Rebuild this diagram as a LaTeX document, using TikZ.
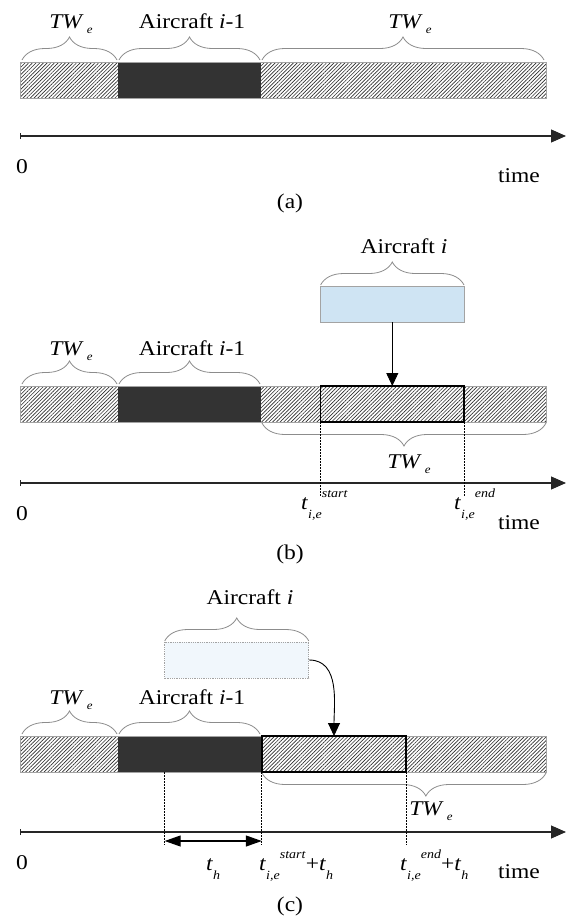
\documentclass[tikz,border=0pt]{standalone}
\usepackage{fontspec}
\setmainfont[FakeStretch=1.12]{Liberation Serif}
\usetikzlibrary{decorations.pathreplacing,arrows.meta,patterns.meta}

\definecolor{slotDark}{HTML}{333333}
\definecolor{slotHatch}{HTML}{2E2E2E}
\definecolor{slotEdge}{HTML}{A3A3A3}
\definecolor{braceGray}{HTML}{8C8C8C}
\definecolor{planBlue}{HTML}{CFE4F3}
\definecolor{planPale}{HTML}{F1F7FC}

\newcommand{\twe}{\textit{TW}\hspace{3pt}\raisebox{-5pt}{\fontsize{11.5}{12}\selectfont\textit{e}}}
\newcommand{\lowtxt}[1]{\raisebox{-9pt}{\fontsize{12.5}{13}\selectfont\textit{#1}}}
\newcommand{\uptxt}[1]{\raisebox{12pt}{\fontsize{12.5}{13}\selectfont\textit{#1}}}
\newcommand{\tie}[1]{\textit{t}\lowtxt{i,e}\uptxt{#1}}

\begin{document}
\begin{tikzpicture}[x=1pt,y=-1pt,font=\fontsize{21}{25}\selectfont,
  lbl/.style={anchor=base,inner sep=0pt},
  tlbl/.style={anchor=base west,inner sep=0pt},
  hatch/.style={pattern={Lines[angle=45,distance=2.6pt,line width=0.65pt]},pattern color=slotHatch},
  slot/.style={draw=slotEdge,line width=0.8pt},
  held/.style={draw=black,line width=1.6pt},
  curly/.style={draw=braceGray,line width=0.8pt,decorate,decoration={brace,amplitude=23pt}},
  curlydown/.style={curly,decoration={mirror}},
  timeaxis/.style={draw=black!85,line width=1.1pt,{Bar[width=6pt]}-{Triangle[length=15pt,width=13pt]}},
  guide/.style={draw=black,line width=0.7pt,dash pattern=on 1.5pt off 1.5pt},
  push/.style={draw=black,line width=0.9pt,-{Triangle[length=13pt,width=12pt]}},
  hold/.style={draw=black,line width=1.2pt,{Triangle[length=16pt,width=11pt]}-{Triangle[length=16pt,width=11pt]}},
  plan/.style={draw=slotEdge,line width=0.8pt,minimum height=36pt,inner sep=0pt}]

  \useasboundingbox (0,0) rectangle (575,919);

  % ---------- (a) ----------
  \node[lbl] (twA1) at (71,28) {\twe};
  \node[lbl] (acA) at (192,28) {Aircraft \textit{i}-1};
  \node[lbl] (twA2) at (410,28) {\twe};
  \draw[curly] (22,60) -- (117,60);
  \draw[curly] (119,60) -- (260,60);
  \draw[curly] (262,60) -- (544,60);

  \fill[white] (20,62) rectangle (546,98);
  \fill[hatch] (20,62) rectangle (546,98);
  \fill[slotDark] (118,62) rectangle (261,98);
  \draw[slot] (20,62) rectangle (546,98);

  \coordinate (zeroA) at (20,136);
  \coordinate (endA) at (566,136);
  \draw[timeaxis] (zeroA) -- (endA);
  \node[lbl] (oA) at (22,173) {0};
  \node[lbl] (timeA) at (519,182) {time};
  \node[lbl] (capA) at (290,208) {(a)};

  % ---------- (b) ----------
  \node[lbl] (acIB) at (404,253) {Aircraft \textit{i}};
  \draw[curly] (320.6,285) -- (464,285);
  \node[plan,fill=planBlue,minimum width=143.4pt] (planB) at (392.3,304) {};

  \node[lbl] (twB1) at (71,355) {\twe};
  \node[lbl] (acB) at (192,355) {Aircraft \textit{i}-1};
  \draw[curly] (22,384) -- (117,384);
  \draw[curly] (119,384) -- (260,384);

  \fill[white] (20,386) rectangle (546,422);
  \fill[hatch] (20,386) rectangle (546,422);
  \fill[slotDark] (118,386) rectangle (261,422);
  \draw[slot] (20,386) rectangle (546,422);
  \draw[held] (320.6,386) rectangle (464,422);

  \coordinate (slotB) at (392.3,386);
  \draw[push] (planB) -- (slotB);

  \draw[curlydown] (262,423) -- (546,423);
  \node[lbl] (twB2) at (409,468) {\twe};

  \coordinate (zeroB) at (20,483);
  \coordinate (endB) at (566,483);
  \draw[timeaxis] (zeroB) -- (endB);

  \coordinate (sB1) at (320.6,422);
  \coordinate (sB2) at (320.6,496);
  \coordinate (eB1) at (464,422);
  \coordinate (eB2) at (464,496);
  \draw[guide] (sB1) -- (sB2);
  \draw[guide] (eB1) -- (eB2);

  \node[tlbl] (tsB) at (301,509) {\tie{start}};
  \node[tlbl] (teB) at (454,509) {\tie{end}};
  \node[lbl] (oB) at (22,520) {0};
  \node[lbl] (timeB) at (519,529) {time};
  \node[lbl] (capB) at (290,559) {(b)};

  % ---------- (c) ----------
  \node[lbl] (acIC) at (250,604) {Aircraft \textit{i}};
  \draw[curly] (164.7,641) -- (308.8,641);
  \node[plan,fill=planPale,densely dotted,minimum width=144.1pt] (planC) at (236.75,660) {};

  \node[lbl] (twC1) at (71,704) {\twe};
  \node[lbl] (acC) at (192,704) {Aircraft \textit{i}-1};
  \draw[curly] (22,734) -- (117,734);
  \draw[curly] (119,734) -- (260,734);

  \fill[white] (20,736) rectangle (546,772);
  \fill[hatch] (20,736) rectangle (546,772);
  \fill[slotDark] (118,736) rectangle (261.8,772);
  \draw[slot] (20,736) rectangle (546,772);
  \draw[held] (261.8,736) rectangle (406,772);

  \coordinate (slotC) at (334,736);
  \draw[push] (planC.east) to[out=0,in=90] (slotC);

  \draw[curlydown,decoration={aspect=0.577}] (262,773) -- (546,773);
  \node[lbl] (twC2) at (431,815) {\twe};

  \coordinate (zeroC) at (20,832);
  \coordinate (endC) at (566,832);
  \draw[timeaxis] (zeroC) -- (endC);

  \coordinate (hC1) at (164.7,772);
  \coordinate (hC2) at (164.7,845);
  \coordinate (sC1) at (261.8,772);
  \coordinate (sC2) at (261.8,845);
  \coordinate (eC1) at (406,772);
  \coordinate (eC2) at (406,845);
  \draw[guide] (hC1) -- (hC2);
  \draw[guide] (sC1) -- (sC2);
  \draw[guide] (eC1) -- (eC2);

  \coordinate (holdL) at (164.7,841);
  \coordinate (holdR) at (261.8,841);
  \draw[hold] (holdL) -- (holdR);

  \node[tlbl] (thC) at (206,870) {\textit{t}\lowtxt{h}};
  \node[tlbl] (tsC) at (259,870) {\tie{start}+\textit{t}\lowtxt{h}};
  \node[tlbl] (teC) at (400,870) {\tie{end}+\textit{t}\lowtxt{h}};
  \node[lbl] (oC) at (22,869) {0};
  \node[lbl] (timeC) at (519,878) {time};
  \node[lbl] (capC) at (290,911) {(c)};

\end{tikzpicture}
\end{document}
